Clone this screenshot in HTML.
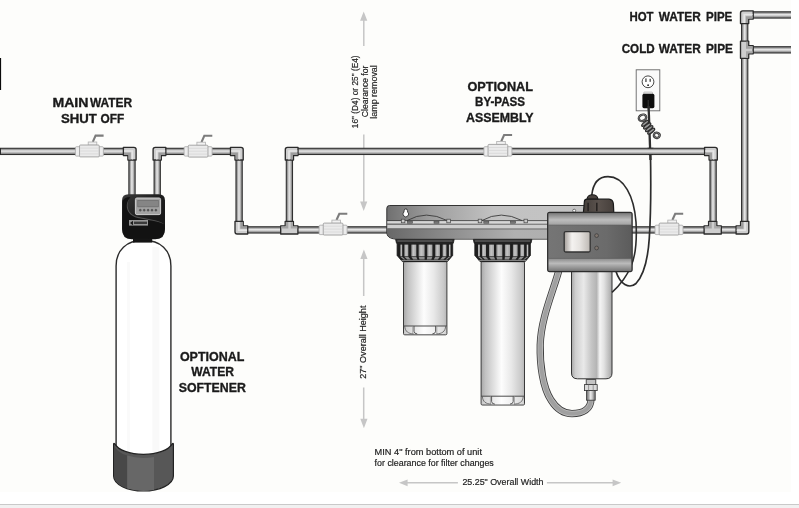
<!DOCTYPE html>
<html lang="en"><head><meta charset="utf-8"><title>Installation diagram</title>
<style>
html,body{margin:0;padding:0;background:#fff}
#wrap{position:relative;width:799px;height:508px;overflow:hidden;background:#fff}
#wrap svg{position:absolute;left:0;top:0;display:block}
#bar{position:absolute;left:0;top:504px;width:799px;height:4px;background:#f1f1f1;border-top:1px solid #c9c9c9;box-sizing:border-box}
</style></head><body>
<div id="wrap">
<svg width="791" height="492" viewBox="0 0 791 492">
<defs>
<linearGradient id="hp" x1="0" y1="0" x2="0" y2="1"><stop offset="0" stop-color="#6c6c6c"/><stop offset="0.22" stop-color="#a0a0a0"/><stop offset="0.42" stop-color="#e6e6e6"/><stop offset="0.6" stop-color="#cfcfcf"/><stop offset="0.8" stop-color="#979797"/><stop offset="1" stop-color="#747474"/></linearGradient>
<linearGradient id="vp" x1="0" y1="0" x2="1" y2="0"><stop offset="0" stop-color="#6c6c6c"/><stop offset="0.22" stop-color="#a0a0a0"/><stop offset="0.45" stop-color="#e6e6e6"/><stop offset="0.63" stop-color="#cfcfcf"/><stop offset="0.82" stop-color="#979797"/><stop offset="1" stop-color="#747474"/></linearGradient>
<linearGradient id="rib" x1="0" y1="0" x2="1" y2="0"><stop offset="0" stop-color="#8c8c8c"/><stop offset="0.4" stop-color="#c6c6c6"/><stop offset="1" stop-color="#a2a2a2"/></linearGradient>
<linearGradient id="sump" x1="0" y1="0" x2="1" y2="0"><stop offset="0" stop-color="#a8a8a8"/><stop offset="0.1" stop-color="#c2c2c2"/><stop offset="0.47" stop-color="#fdfdfd"/><stop offset="0.7" stop-color="#e8e8e8"/><stop offset="0.92" stop-color="#cacaca"/><stop offset="1" stop-color="#b6b6b6"/></linearGradient>
<linearGradient id="uv" x1="0" y1="0" x2="1" y2="0"><stop offset="0" stop-color="#a8a8a8"/><stop offset="0.1" stop-color="#cfcfcf"/><stop offset="0.3" stop-color="#e9e9e9"/><stop offset="0.5" stop-color="#c4c4c4"/><stop offset="0.62" stop-color="#b4b4b4"/><stop offset="0.7" stop-color="#f4f4f4"/><stop offset="0.8" stop-color="#e2e2e2"/><stop offset="1" stop-color="#a6a6a6"/></linearGradient>
<linearGradient id="brk" x1="0" y1="0" x2="1" y2="0"><stop offset="0" stop-color="#707070"/><stop offset="0.2" stop-color="#9c9c9c"/><stop offset="0.5" stop-color="#c2c2c2"/><stop offset="1" stop-color="#c4c4c4"/></linearGradient>
<linearGradient id="brk2" x1="0" y1="0" x2="1" y2="0"><stop offset="0" stop-color="#686868"/><stop offset="0.3" stop-color="#8e8e8e"/><stop offset="0.6" stop-color="#b0b0b0"/><stop offset="1" stop-color="#aeaeae"/></linearGradient>
<linearGradient id="ctop" x1="0" y1="0" x2="0" y2="1"><stop offset="0" stop-color="#7c7c7c"/><stop offset="0.55" stop-color="#bdbdbd"/><stop offset="1" stop-color="#a0a0a0"/></linearGradient>
<linearGradient id="cbot" x1="0" y1="0" x2="0" y2="1"><stop offset="0" stop-color="#8a8a8a"/><stop offset="0.4" stop-color="#bbbbbb"/><stop offset="1" stop-color="#7a7a7a"/></linearGradient>
<linearGradient id="cmid" x1="0" y1="0" x2="1" y2="0"><stop offset="0" stop-color="#757575"/><stop offset="0.7" stop-color="#6b6b6b"/><stop offset="1" stop-color="#5c5c5c"/></linearGradient>
<linearGradient id="scr" x1="0" y1="0" x2="1" y2="0"><stop offset="0" stop-color="#a39d98"/><stop offset="0.3" stop-color="#f4f2f0"/><stop offset="0.6" stop-color="#e6e3e0"/><stop offset="1" stop-color="#bdb8b3"/></linearGradient>
<linearGradient id="lcap" x1="0" y1="0" x2="1" y2="0"><stop offset="0" stop-color="#453f3b"/><stop offset="0.5" stop-color="#5a524d"/><stop offset="1" stop-color="#463f3b"/></linearGradient>
<linearGradient id="head" x1="0" y1="0" x2="1" y2="1"><stop offset="0" stop-color="#3a3a3a"/><stop offset="0.45" stop-color="#1e1e1e"/><stop offset="1" stop-color="#141414"/></linearGradient>
</defs>
<rect x="0" y="0" width="791" height="492" fill="#fdfdfb"/>
<rect x="0" y="58" width="1.1" height="32" fill="#0a0a0a"/>
<g id="dims" stroke="#c6c6c6" fill="#c6c6c6">
<path d="M363.8,19 V46 M363.8,134.5 V204" fill="none" stroke-width="1.5"/>
<path d="M363.7,11.4 l3.6,9.4 h-7.2 z M363.7,211 l3.6,-9.4 h-7.2 z" stroke="none"/>
<path d="M363.7,257 V296 M363.7,387.4 V420" fill="none" stroke-width="1.5"/>
<path d="M363.9,249.6 l3.6,9.4 h-7.2 z M363.9,428.2 l3.6,-9.4 h-7.2 z" stroke="none"/>
<path d="M406,482.8 H457.9 M546.9,482.8 H614" fill="none" stroke-width="1.5"/>
<path d="M399,482.8 l8.6,-3.4 v6.8 z M621.2,482.8 l-8.6,-3.4 v6.8 z" stroke="none"/>
</g>
<rect x="0.5" y="148.25" width="131.5" height="6.30" fill="url(#hp)" stroke="#2b2b2b" stroke-width="1"/>
<rect x="128.85" y="151.4" width="6.30" height="44.6" fill="url(#vp)" stroke="#2b2b2b" stroke-width="1"/>
<rect x="154.05" y="151.4" width="6.30" height="44.6" fill="url(#vp)" stroke="#2b2b2b" stroke-width="1"/>
<rect x="157.2" y="148.25" width="81.9" height="6.30" fill="url(#hp)" stroke="#2b2b2b" stroke-width="1"/>
<rect x="235.95" y="151.4" width="6.30" height="78.5" fill="url(#vp)" stroke="#2b2b2b" stroke-width="1"/>
<rect x="239.1" y="226.75" width="148.9" height="6.30" fill="url(#hp)" stroke="#2b2b2b" stroke-width="1"/>
<rect x="286.25" y="151.4" width="6.30" height="78.5" fill="url(#vp)" stroke="#2b2b2b" stroke-width="1"/>
<rect x="289.4" y="148.25" width="423.8" height="6.30" fill="url(#hp)" stroke="#2b2b2b" stroke-width="1"/>
<rect x="709.95" y="151.4" width="6.30" height="78.5" fill="url(#vp)" stroke="#2b2b2b" stroke-width="1"/>
<rect x="631.0" y="226.75" width="113.7" height="6.30" fill="url(#hp)" stroke="#2b2b2b" stroke-width="1"/>
<rect x="741.55" y="14.9" width="6.30" height="215.0" fill="url(#vp)" stroke="#2b2b2b" stroke-width="1"/>
<rect x="744.7" y="11.80" width="46.8" height="6.30" fill="url(#hp)" stroke="#2b2b2b" stroke-width="1"/>
<rect x="744.7" y="46.70" width="46.8" height="6.30" fill="url(#hp)" stroke="#2b2b2b" stroke-width="1"/>
<path d="M123.40,147.30 L133.90,147.30 Q136.10,147.30 136.10,149.50 L136.10,160.00 L127.90,160.00 L127.90,155.50 L123.40,155.50 Z" fill="#cecece" stroke="#2b2b2b" stroke-width="1.35" stroke-linejoin="round"/>
<path d="M124.00,152.60 L130.80,152.60 L130.80,159.40 L128.50,159.40 L128.50,154.90 L124.00,154.90 Z" fill="#9c9c9c"/>
<path d="M124.00,151.00 L132.40,151.00 L132.40,159.40" fill="none" stroke="#e6e6e6" stroke-width="1.6"/>
<path d="M165.80,147.30 L155.30,147.30 Q153.10,147.30 153.10,149.50 L153.10,160.00 L161.30,160.00 L161.30,155.50 L165.80,155.50 Z" fill="#cecece" stroke="#2b2b2b" stroke-width="1.35" stroke-linejoin="round"/>
<path d="M165.20,152.60 L158.40,152.60 L158.40,159.40 L160.70,159.40 L160.70,154.90 L165.20,154.90 Z" fill="#9c9c9c"/>
<path d="M165.20,151.00 L156.80,151.00 L156.80,159.40" fill="none" stroke="#e6e6e6" stroke-width="1.6"/>
<path d="M230.50,147.30 L241.00,147.30 Q243.20,147.30 243.20,149.50 L243.20,160.00 L235.00,160.00 L235.00,155.50 L230.50,155.50 Z" fill="#cecece" stroke="#2b2b2b" stroke-width="1.35" stroke-linejoin="round"/>
<path d="M231.10,152.60 L237.90,152.60 L237.90,159.40 L235.60,159.40 L235.60,154.90 L231.10,154.90 Z" fill="#9c9c9c"/>
<path d="M231.10,151.00 L239.50,151.00 L239.50,159.40" fill="none" stroke="#e6e6e6" stroke-width="1.6"/>
<path d="M247.70,234.00 L237.20,234.00 Q235.00,234.00 235.00,231.80 L235.00,221.30 L243.20,221.30 L243.20,225.80 L247.70,225.80 Z" fill="#cecece" stroke="#2b2b2b" stroke-width="1.35" stroke-linejoin="round"/>
<path d="M247.10,228.70 L240.30,228.70 L240.30,221.90 L242.60,221.90 L242.60,226.40 L247.10,226.40 Z" fill="#9c9c9c"/>
<path d="M247.10,230.30 L238.70,230.30 L238.70,221.90" fill="none" stroke="#e6e6e6" stroke-width="1.6"/>
<path d="M280.70,234.00 L297.90,234.00 L297.90,225.80 L293.40,225.80 L293.40,221.30 L285.20,221.30 L285.20,225.80 L280.70,225.80 Z" fill="#cecece" stroke="#2b2b2b" stroke-width="1.35" stroke-linejoin="round"/>
<path d="M281.30,226.40 L285.80,226.40 L285.80,221.90 L288.30,221.90 L288.30,228.50 L281.30,228.50 Z" fill="#a2a2a2"/>
<path d="M297.30,226.40 L292.80,226.40 L292.80,221.90 L290.70,221.90 L290.70,228.50 L297.30,228.50 Z" fill="#a8a8a8"/>
<path d="M298.00,147.30 L287.50,147.30 Q285.30,147.30 285.30,149.50 L285.30,160.00 L293.50,160.00 L293.50,155.50 L298.00,155.50 Z" fill="#cecece" stroke="#2b2b2b" stroke-width="1.35" stroke-linejoin="round"/>
<path d="M297.40,152.60 L290.60,152.60 L290.60,159.40 L292.90,159.40 L292.90,154.90 L297.40,154.90 Z" fill="#9c9c9c"/>
<path d="M297.40,151.00 L289.00,151.00 L289.00,159.40" fill="none" stroke="#e6e6e6" stroke-width="1.6"/>
<path d="M704.60,147.30 L715.10,147.30 Q717.30,147.30 717.30,149.50 L717.30,160.00 L709.10,160.00 L709.10,155.50 L704.60,155.50 Z" fill="#cecece" stroke="#2b2b2b" stroke-width="1.35" stroke-linejoin="round"/>
<path d="M705.20,152.60 L712.00,152.60 L712.00,159.40 L709.70,159.40 L709.70,154.90 L705.20,154.90 Z" fill="#9c9c9c"/>
<path d="M705.20,151.00 L713.60,151.00 L713.60,159.40" fill="none" stroke="#e6e6e6" stroke-width="1.6"/>
<path d="M704.10,234.00 L721.30,234.00 L721.30,225.80 L716.80,225.80 L716.80,221.30 L708.60,221.30 L708.60,225.80 L704.10,225.80 Z" fill="#cecece" stroke="#2b2b2b" stroke-width="1.35" stroke-linejoin="round"/>
<path d="M704.70,226.40 L709.20,226.40 L709.20,221.90 L711.70,221.90 L711.70,228.50 L704.70,228.50 Z" fill="#a2a2a2"/>
<path d="M720.70,226.40 L716.20,226.40 L716.20,221.90 L714.10,221.90 L714.10,228.50 L720.70,228.50 Z" fill="#a8a8a8"/>
<path d="M736.10,234.00 L746.60,234.00 Q748.80,234.00 748.80,231.80 L748.80,221.30 L740.60,221.30 L740.60,225.80 L736.10,225.80 Z" fill="#cecece" stroke="#2b2b2b" stroke-width="1.35" stroke-linejoin="round"/>
<path d="M736.70,228.70 L743.50,228.70 L743.50,221.90 L741.20,221.90 L741.20,226.40 L736.70,226.40 Z" fill="#9c9c9c"/>
<path d="M736.70,230.30 L745.10,230.30 L745.10,221.90" fill="none" stroke="#e6e6e6" stroke-width="1.6"/>
<path d="M753.20,10.85 L742.70,10.85 Q740.50,10.85 740.50,13.05 L740.50,23.55 L748.70,23.55 L748.70,19.05 L753.20,19.05 Z" fill="#cecece" stroke="#2b2b2b" stroke-width="1.35" stroke-linejoin="round"/>
<path d="M752.60,16.15 L745.80,16.15 L745.80,22.95 L748.10,22.95 L748.10,18.45 L752.60,18.45 Z" fill="#9c9c9c"/>
<path d="M752.60,14.55 L744.20,14.55 L744.20,22.95" fill="none" stroke="#e6e6e6" stroke-width="1.6"/>
<path d="M740.50,41.15 L740.50,58.35 L748.70,58.35 L748.70,53.85 L753.20,53.85 L753.20,45.65 L748.70,45.65 L748.70,41.15 Z" fill="#cecece" stroke="#2b2b2b" stroke-width="1.35" stroke-linejoin="round"/>
<path d="M748.10,41.75 L748.10,46.25 L752.60,46.25 L752.60,48.75 L746.00,48.75 L746.00,41.75 Z" fill="#a2a2a2"/>
<path d="M748.10,57.75 L748.10,53.25 L752.60,53.25 L752.60,51.15 L746.00,51.15 L746.00,57.75 Z" fill="#a8a8a8"/>
<g><path d="M92.80,141.90 L95.60,135.60 L103.60,135.60" fill="none" stroke="#7c7c7c" stroke-width="2.1"/><rect x="75.40" y="146.70" width="28" height="9.4" rx="1" fill="#ececec" stroke="#a8a8a8" stroke-width="0.8"/><rect x="88.20" y="142.00" width="8.6" height="3.2" fill="#f2f2f2" stroke="#b0b0b0" stroke-width="0.8"/><rect x="79.55" y="145.00" width="19.7" height="11.9" rx="1" fill="#ebebeb" stroke="#9e9e9e" stroke-width="0.9"/><line x1="80.20" x2="98.60" y1="148.10" y2="148.10" stroke="#d4d4d4" stroke-width="0.7"/><line x1="80.20" x2="98.60" y1="151.00" y2="151.00" stroke="#d4d4d4" stroke-width="0.7"/><line x1="80.20" x2="98.60" y1="153.90" y2="153.90" stroke="#d4d4d4" stroke-width="0.7"/></g>
<g><path d="M201.50,142.10 L204.30,135.80 L212.30,135.80" fill="none" stroke="#7c7c7c" stroke-width="2.1"/><rect x="184.10" y="146.70" width="28" height="9.4" rx="1" fill="#ececec" stroke="#a8a8a8" stroke-width="0.8"/><rect x="196.90" y="142.20" width="8.6" height="3.2" fill="#f2f2f2" stroke="#b0b0b0" stroke-width="0.8"/><rect x="188.25" y="145.20" width="19.7" height="11.9" rx="1" fill="#ebebeb" stroke="#9e9e9e" stroke-width="0.9"/><line x1="188.90" x2="207.30" y1="148.30" y2="148.30" stroke="#d4d4d4" stroke-width="0.7"/><line x1="188.90" x2="207.30" y1="151.20" y2="151.20" stroke="#d4d4d4" stroke-width="0.7"/><line x1="188.90" x2="207.30" y1="154.10" y2="154.10" stroke="#d4d4d4" stroke-width="0.7"/></g>
<g><path d="M501.30,141.30 L504.10,135.00 L512.10,135.00" fill="none" stroke="#7c7c7c" stroke-width="2.1"/><rect x="483.90" y="146.70" width="28" height="9.4" rx="1" fill="#ececec" stroke="#a8a8a8" stroke-width="0.8"/><rect x="496.70" y="141.40" width="8.6" height="3.2" fill="#f2f2f2" stroke="#b0b0b0" stroke-width="0.8"/><rect x="488.05" y="144.40" width="19.7" height="11.9" rx="1" fill="#ebebeb" stroke="#9e9e9e" stroke-width="0.9"/><line x1="488.70" x2="507.10" y1="147.50" y2="147.50" stroke="#d4d4d4" stroke-width="0.7"/><line x1="488.70" x2="507.10" y1="150.40" y2="150.40" stroke="#d4d4d4" stroke-width="0.7"/><line x1="488.70" x2="507.10" y1="153.30" y2="153.30" stroke="#d4d4d4" stroke-width="0.7"/></g>
<g><path d="M336.50,220.00 L339.30,213.70 L347.30,213.70" fill="none" stroke="#7c7c7c" stroke-width="2.1"/><rect x="319.10" y="225.20" width="28" height="9.4" rx="1" fill="#ececec" stroke="#a8a8a8" stroke-width="0.8"/><rect x="331.90" y="220.10" width="8.6" height="3.2" fill="#f2f2f2" stroke="#b0b0b0" stroke-width="0.8"/><rect x="323.25" y="223.10" width="19.7" height="11.9" rx="1" fill="#ebebeb" stroke="#9e9e9e" stroke-width="0.9"/><line x1="323.90" x2="342.30" y1="226.20" y2="226.20" stroke="#d4d4d4" stroke-width="0.7"/><line x1="323.90" x2="342.30" y1="229.10" y2="229.10" stroke="#d4d4d4" stroke-width="0.7"/><line x1="323.90" x2="342.30" y1="232.00" y2="232.00" stroke="#d4d4d4" stroke-width="0.7"/></g>
<g><path d="M672.40,220.00 L675.20,213.70 L683.20,213.70" fill="none" stroke="#7c7c7c" stroke-width="2.1"/><rect x="655.00" y="225.20" width="28" height="9.4" rx="1" fill="#ececec" stroke="#a8a8a8" stroke-width="0.8"/><rect x="667.80" y="220.10" width="8.6" height="3.2" fill="#f2f2f2" stroke="#b0b0b0" stroke-width="0.8"/><rect x="659.15" y="223.10" width="19.7" height="11.9" rx="1" fill="#ebebeb" stroke="#9e9e9e" stroke-width="0.9"/><line x1="659.80" x2="678.20" y1="226.20" y2="226.20" stroke="#d4d4d4" stroke-width="0.7"/><line x1="659.80" x2="678.20" y1="229.10" y2="229.10" stroke="#d4d4d4" stroke-width="0.7"/><line x1="659.80" x2="678.20" y1="232.00" y2="232.00" stroke="#d4d4d4" stroke-width="0.7"/></g>
<g id="softener">
<path d="M116.1,478 V266 C116.1,250 126.5,240.3 143.5,240.3 C160.5,240.3 170.9,250 170.9,266 V478 Z" fill="#ffffff" stroke="#2b2b2b" stroke-width="1.4"/>
<rect x="127" y="262" width="3" height="196" fill="#fafafa"/>
<rect x="152.4" y="247" width="7" height="211" fill="#f9f9f9"/>

<path d="M113.6,444.5 Q113.6,442.6 114.6,443.6 A29.9,14.6 0 0 0 172.4,443.6 Q173.4,442.6 173.4,444.5 V476 A29.9,15 0 0 1 113.6,476 Z" fill="#575757" stroke="#222" stroke-width="1.2"/>
<path d="M114.2,445 A29.9,14.6 0 0 0 127.2,455.6 V488.6 A29.9,15 0 0 1 114.2,476.5 Z" fill="#484848"/>
<path d="M127.2,455.6 A29.9,14.6 0 0 0 154,457 V490 A29.9,15 0 0 1 127.2,488.6 Z" fill="#676767"/>
<rect x="133" y="238" width="19.2" height="4.6" fill="#141414"/>
<path d="M128.5,194.2 H158.5 Q165,194.2 165,200.5 V229 Q165,239.2 155.5,239.2 H131.5 Q122,239.2 122,229 V200.5 Q122,194.2 128.5,194.2 Z" fill="url(#head)"/>
<path d="M130.5,197.6 C126,203 126.6,213.8 137,216.6 C149,219.4 158,219.6 164.6,224.5 V229 Q164.6,238.8 155.5,238.8 H131.5 Q122.4,238.8 122.4,229 V203 C122.4,199.6 126,196.4 130.5,197.6 Z" fill="#121212"/>
<path d="M130.5,197.6 C126,203 126.6,213.8 137,216.6 C149,219.4 158,219.6 164.6,224.5 C158,220.6 149,220.6 137.6,218 C125,215 124.6,202.6 130.5,197.6 Z" fill="#505050"/>
<rect x="135.4" y="198" width="25.2" height="16.6" rx="1.5" fill="#a2a2a2" stroke="#cfcfcf" stroke-width="1"/>
<rect x="137.8" y="200.4" width="20.5" height="6.5" fill="#858585" stroke="#5a5a5a" stroke-width="0.5"/>
<g fill="#585858" stroke="#444" stroke-width="0.3"><circle cx="140.3" cy="210.2" r="1.1"/><circle cx="144.2" cy="210.2" r="1.1"/><circle cx="148.1" cy="210.2" r="1.1"/><circle cx="152" cy="210.2" r="1.1"/><circle cx="155.9" cy="210.2" r="1.1"/></g>
<rect x="129" y="220" width="19" height="5.6" fill="#969696"/>
<rect x="134" y="221.6" width="13" height="2.4" fill="#3a3a3a"/>
<path d="M130,223 l3,-2.2 v4.4 z" fill="#1a1a1a"/>
</g>
<g id="unit">
<path d="M559,270 C553,292 541,318 540.2,345 C539.7,365 543,388 551,400 C556,408 563,413.6 572,413.6 C583,413.6 591,409 591,399" fill="none" stroke="#3c3c3c" stroke-width="7.2"/>
<path d="M559,270 C553,292 541,318 540.2,345 C539.7,365 543,388 551,400 C556,408 563,413.6 572,413.6 C583,413.6 591,409 591,399" fill="none" stroke="#bababa" stroke-width="5.6"/>
<path d="M559,270 C553,292 541,318 540.2,345 C539.7,365 543,388 551,400 C556,408 563,413.6 572,413.6 C583,413.6 591,409 591,399" fill="none" stroke="#a0a0a0" stroke-width="3.8"/>
<path d="M389.6,205.5 H600 V239.1 H396 C389.4,238.6 386.8,236.4 386.8,232 V208.3 Q386.8,205.5 389.6,205.5 Z" fill="url(#brk)" stroke="#333" stroke-width="1"/>
<rect x="387.3" y="221" width="212.7" height="2.6" fill="#d6d6d6"/>
<rect x="387.3" y="224.8" width="212.7" height="3.8" fill="#cecece"/>
<path d="M387.3,228.6 H600 V238.6 H396 C389.9,238.2 387.3,236.2 387.3,232 Z" fill="url(#brk2)"/>
<path d="M387.3,229 H600" stroke="#6c6c6c" stroke-width="0.9"/>
<path d="M387,220.6 H600" stroke="#3c3c3c" stroke-width="0.8"/>
<path d="M387,224.2 H600" stroke="#707070" stroke-width="1.1"/>
<path d="M407.0,220.6 Q426.0,209.6 447.3,220.6" fill="none" stroke="#3a3a3a" stroke-width="0.9"/>
<path d="M481.8,220.6 Q500.8,209.6 522.1,220.6" fill="none" stroke="#3a3a3a" stroke-width="0.9"/>
<rect x="401.3" y="219.2" width="3.6" height="3.6" fill="#c9c9c9" stroke="#444" stroke-width="0.7"/>
<rect x="446.8" y="219.2" width="3.6" height="3.6" fill="#c9c9c9" stroke="#444" stroke-width="0.7"/>
<rect x="478.2" y="219.2" width="3.6" height="3.6" fill="#c9c9c9" stroke="#444" stroke-width="0.7"/>
<rect x="524.0" y="219.2" width="3.6" height="3.6" fill="#c9c9c9" stroke="#444" stroke-width="0.7"/>
<rect x="407.5" y="221.4" width="5" height="1.8" fill="#7a7a7a" stroke="#4a4a4a" stroke-width="0.6"/>
<rect x="434.0" y="221.4" width="5" height="1.8" fill="#7a7a7a" stroke="#4a4a4a" stroke-width="0.6"/>
<rect x="483.8" y="221.4" width="5" height="1.8" fill="#7a7a7a" stroke="#4a4a4a" stroke-width="0.6"/>
<rect x="510.6" y="221.4" width="5" height="1.8" fill="#7a7a7a" stroke="#4a4a4a" stroke-width="0.6"/>
<path d="M404.2,210.5 a1.6,1.6 0 1 1 3.2,0 L407.7,212 a2.8,2.8 0 1 1 -3.8,0 Z" fill="#fff" stroke="#2e2e2e" stroke-width="0.9"/>
<circle cx="574.2" cy="210.7" r="1.5" fill="#fff" stroke="#444" stroke-width="0.7"/>
<rect x="403.5" y="261.6" width="43.4" height="73.2" rx="1.2" fill="url(#sump)" stroke="#3a3a3a" stroke-width="1"/><rect x="404.0" y="326.0" width="42.4" height="8.3" fill="#ffffff" opacity="0.35"/><path d="M403.5,326.0 H446.9" stroke="#4a4a4a" stroke-width="1"/><path d="M404.7,326.0 C405.1,331.8 408.5,333.7 413.6,333.9" stroke="#5a5a5a" stroke-width="0.8" fill="none"/><path d="M445.7,326.0 C445.3,331.8 441.9,333.7 436.4,333.9" stroke="#5a5a5a" stroke-width="0.8" fill="none"/><path d="M414.0,326.0 V331.3 Q414.2,333.8 417.2,333.9 M435.6,326.0 V331.3 Q435.4,333.8 432.4,333.9" stroke="#4a4a4a" stroke-width="0.9" fill="none"/><path d="M412.8,326.0 V333.8 M436.8,326.0 V333.8" stroke="#8a8a8a" stroke-width="0.7" fill="none"/>
<path d="M395.6,239.4 H454.2 L453.3,243.2 H396.5 Z" fill="#2c2c2c" stroke="#1c1c1c" stroke-width="0.8" stroke-linejoin="round"/><path d="M397.4,241 H452.4" stroke="#727272" stroke-width="0.9"/><path d="M397.1,243.2 H452.7 V255.4 L447.5,261.6 H402.3 L397.1,255.4 Z" fill="#1e1e1e" stroke="#1a1a1a" stroke-width="0.8" stroke-linejoin="round"/><rect x="400.3" y="244.6" width="1.9" height="11.6" fill="url(#rib)"/><path d="M400.3,256.8 H402.2 L405.4,259.6 H403.7 Z" fill="#8e8e8e"/><rect x="404.3" y="244.6" width="4.0" height="11.6" fill="url(#rib)"/><path d="M404.3,256.8 H408.3 L410.6,259.6 H407.2 Z" fill="#8e8e8e"/><rect x="411.3" y="244.6" width="5.0" height="11.6" fill="url(#rib)"/><path d="M411.3,256.8 H416.3 L417.5,259.6 H413.2 Z" fill="#8e8e8e"/><rect x="418.6" y="244.6" width="6.0" height="11.6" fill="url(#rib)"/><path d="M418.6,256.8 H424.6 L424.6,259.6 H419.5 Z" fill="#8e8e8e"/><rect x="427.2" y="244.6" width="5.2" height="11.6" fill="url(#rib)"/><path d="M427.2,256.8 H432.4 L431.3,259.6 H426.9 Z" fill="#8e8e8e"/><rect x="435.2" y="244.6" width="4.7" height="11.6" fill="url(#rib)"/><path d="M435.2,256.8 H439.9 L437.8,259.6 H433.8 Z" fill="#8e8e8e"/><rect x="442.6" y="244.6" width="3.8" height="11.6" fill="url(#rib)"/><path d="M442.6,256.8 H446.4 L443.4,259.6 H440.1 Z" fill="#8e8e8e"/><rect x="448.9" y="244.6" width="1.7" height="11.6" fill="url(#rib)"/><path d="M448.9,256.8 H450.6 L447.0,259.6 H445.5 Z" fill="#8e8e8e"/><path d="M401.5,260.4 H448.3" stroke="#9a9a9a" stroke-width="0.9"/>
<rect x="481.1" y="261.6" width="43.4" height="143.4" rx="1.2" fill="url(#sump)" stroke="#3a3a3a" stroke-width="1"/><rect x="481.6" y="396.2" width="42.4" height="8.3" fill="#ffffff" opacity="0.35"/><path d="M481.1,396.2 H524.5" stroke="#4a4a4a" stroke-width="1"/><path d="M482.3,396.2 C482.7,402.0 486.1,403.9 491.2,404.1" stroke="#5a5a5a" stroke-width="0.8" fill="none"/><path d="M523.3,396.2 C522.9,402.0 519.5,403.9 514.0,404.1" stroke="#5a5a5a" stroke-width="0.8" fill="none"/><path d="M491.6,396.2 V401.5 Q491.8,404.0 494.8,404.1 M513.2,396.2 V401.5 Q513.0,404.0 510.0,404.1" stroke="#4a4a4a" stroke-width="0.9" fill="none"/><path d="M490.4,396.2 V404.0 M514.4,396.2 V404.0" stroke="#8a8a8a" stroke-width="0.7" fill="none"/>
<path d="M473.3,239.4 H531.9 L531.0,243.2 H474.2 Z" fill="#2c2c2c" stroke="#1c1c1c" stroke-width="0.8" stroke-linejoin="round"/><path d="M475.1,241 H530.1" stroke="#727272" stroke-width="0.9"/><path d="M474.8,243.2 H530.4 V255.4 L525.2,261.6 H480.0 L474.8,255.4 Z" fill="#1e1e1e" stroke="#1a1a1a" stroke-width="0.8" stroke-linejoin="round"/><rect x="478.0" y="244.6" width="1.9" height="11.6" fill="url(#rib)"/><path d="M478.0,256.8 H479.9 L483.1,259.6 H481.4 Z" fill="#8e8e8e"/><rect x="482.0" y="244.6" width="4.0" height="11.6" fill="url(#rib)"/><path d="M482.0,256.8 H486.0 L488.3,259.6 H484.9 Z" fill="#8e8e8e"/><rect x="489.0" y="244.6" width="5.0" height="11.6" fill="url(#rib)"/><path d="M489.0,256.8 H494.0 L495.2,259.6 H490.9 Z" fill="#8e8e8e"/><rect x="496.3" y="244.6" width="6.0" height="11.6" fill="url(#rib)"/><path d="M496.3,256.8 H502.3 L502.3,259.6 H497.2 Z" fill="#8e8e8e"/><rect x="504.9" y="244.6" width="5.2" height="11.6" fill="url(#rib)"/><path d="M504.9,256.8 H510.1 L509.1,259.6 H504.6 Z" fill="#8e8e8e"/><rect x="512.9" y="244.6" width="4.7" height="11.6" fill="url(#rib)"/><path d="M512.9,256.8 H517.6 L515.5,259.6 H511.5 Z" fill="#8e8e8e"/><rect x="520.3" y="244.6" width="3.8" height="11.6" fill="url(#rib)"/><path d="M520.3,256.8 H524.1 L521.1,259.6 H517.8 Z" fill="#8e8e8e"/><rect x="526.6" y="244.6" width="1.7" height="11.6" fill="url(#rib)"/><path d="M526.6,256.8 H528.3 L524.7,259.6 H523.2 Z" fill="#8e8e8e"/><path d="M479.2,260.4 H526.0" stroke="#9a9a9a" stroke-width="0.9"/>
<path d="M571.5,270 H612 V373 Q612,378.8 606,378.8 H577.5 Q571.5,378.8 571.5,373 Z" fill="url(#uv)" stroke="#333" stroke-width="1"/>
<rect x="586.2" y="379.6" width="9.6" height="5.2" fill="#c4c4c4" stroke="#333" stroke-width="0.8"/>
<rect x="584.6" y="384.6" width="12.6" height="6" fill="#dadada" stroke="#333" stroke-width="0.8"/>
<rect x="586.6" y="390.6" width="8.6" height="9.6" fill="url(#vp)" stroke="#333" stroke-width="0.8"/>
<path d="M588.6,384.6 V390.6 M593.2,384.6 V390.6" stroke="#777" stroke-width="0.7"/>
<path d="M591.8,195 C593,184 598,176.6 608,176.6 C624,176.6 634,196 636,222 C637,240 636,255 631,266 C627,276 619,286 612,292.4" fill="none" stroke="#2c2c2c" stroke-width="1.6"/>
<path d="M650.4,150 C650.8,170 650.8,215 649.3,238 C648,258 644,275 636,283.5 C629,289.5 620,284 616,271.5" fill="none" stroke="#2c2c2c" stroke-width="1.7"/>
<path d="M586.9,199.4 C587.4,196.4 589.6,194.8 592.4,194.8 C595.4,194.8 597.6,196.4 598,199.4 Z" fill="#4b4440" stroke="#1a1a1a" stroke-width="1.1"/>
<path d="M583.4,212.6 L584.4,201.4 Q584.6,199.2 587,199.2 H609 Q613,199.6 613.4,204 L613.8,212.6 Z" fill="url(#lcap)" stroke="#1a1a1a" stroke-width="1.2" stroke-linejoin="round"/>
<path d="M588.1,202.8 V211.2 M596.8,202.8 V211.2" stroke="#252220" stroke-width="1.5"/>
<rect x="547.7" y="212.4" width="84.4" height="59.2" rx="2" fill="#6c6c6c" stroke="#2d2d2d" stroke-width="1.3"/>
<rect x="548.6" y="213.3" width="82.6" height="11.8" fill="url(#ctop)"/>
<rect x="548.6" y="258.4" width="82.6" height="12.4" fill="url(#cbot)"/>
<rect x="548.6" y="225.1" width="82.6" height="33.3" fill="url(#cmid)"/>
<path d="M548.4,225 H631.4 M548.4,258.4 H631.4" stroke="#5a5a5a" stroke-width="0.5"/>
<rect x="564.2" y="231.6" width="26" height="20.4" rx="1.5" fill="url(#scr)" stroke="#333" stroke-width="1.3"/>
<circle cx="596.6" cy="235.6" r="1.9" fill="#7e746d" stroke="#3a3a3a" stroke-width="0.7"/>
<circle cx="596.6" cy="248" r="1.9" fill="#7e746d" stroke="#3a3a3a" stroke-width="0.7"/>
</g>
<g id="outlet">
<rect x="636.2" y="69.8" width="23.6" height="41" fill="#fafafa" stroke="#666" stroke-width="0.9"/>
<circle cx="648" cy="81.8" r="5.9" fill="#fff" stroke="#333" stroke-width="0.9"/>
<rect x="645.4" y="78.4" width="1.1" height="3.6" fill="#222"/><rect x="649.6" y="78.8" width="1.1" height="3" fill="#222"/>
<circle cx="648.1" cy="85.2" r="0.9" fill="#222"/>
<rect x="643.6" y="92" width="9" height="3" rx="1" fill="#e8e8e8" stroke="#999" stroke-width="0.5"/>
<rect x="642.4" y="93.8" width="12" height="14.4" rx="1.6" fill="#0e0e0e"/>
<path d="M648.2,100 V110" stroke="#444" stroke-width="0.8"/>
<path d="M648.6,106 L650.5,160" fill="none" stroke="#2e2e2e" stroke-width="2.3"/>
<g fill="none" stroke="#333" stroke-width="2.3">
<ellipse cx="642.5" cy="117.8" rx="3.8" ry="3.1" transform="rotate(-25 642.5 117.8)"/>
<ellipse cx="656.8" cy="135.3" rx="2.9" ry="2.6" transform="rotate(15 656.8 135.3)"/>
</g>
<g fill="none" stroke="#8c8c8c" stroke-width="0.7">
<ellipse cx="642.5" cy="117.8" rx="3.8" ry="3.1" transform="rotate(-25 642.5 117.8)"/>
<ellipse cx="656.8" cy="135.3" rx="2.9" ry="2.6" transform="rotate(15 656.8 135.3)"/>
</g>
<g fill="#9a9a9a" stroke="#2e2e2e" stroke-width="1.3">
<ellipse cx="645.2" cy="123.4" rx="4.2" ry="1.5" transform="rotate(-38 645.2 123.4)"/>
<ellipse cx="647.2" cy="126" rx="4.4" ry="1.5" transform="rotate(-38 647.2 126)"/>
<ellipse cx="649.2" cy="128.6" rx="4.4" ry="1.5" transform="rotate(-38 649.2 128.6)"/>
<ellipse cx="651.2" cy="131.2" rx="4.2" ry="1.5" transform="rotate(-38 651.2 131.2)"/>
</g>
</g>
<rect x="647.5" y="148.25" width="6" height="6.30" fill="url(#hp)"/>
<path d="M647.5,148.25 H653.5 M647.5,154.55 H653.5" stroke="#2b2b2b" stroke-width="1" fill="none"/>
<g opacity="0.999" font-family="'Liberation Sans', Arial, sans-serif" fill="#1a1a1a">
<g font-weight="bold" font-size="13" stroke="#1a1a1a" stroke-width="0.35" stroke-linejoin="round">
<text x="52.4" y="107.2" textLength="36.0" lengthAdjust="spacingAndGlyphs">MAIN</text>
<text x="90.0" y="107.2" textLength="42.2" lengthAdjust="spacingAndGlyphs">WATER</text>
<text x="60.9" y="122.6" textLength="35.8" lengthAdjust="spacingAndGlyphs">SHUT</text>
<text x="100.6" y="122.6" textLength="23.7" lengthAdjust="spacingAndGlyphs">OFF</text>
<text x="467.5" y="90.7" textLength="65.5" lengthAdjust="spacingAndGlyphs">OPTIONAL</text>
<text x="475" y="106.1" textLength="50.1" lengthAdjust="spacingAndGlyphs">BY-PASS</text>
<text x="466" y="121.7" textLength="67.6" lengthAdjust="spacingAndGlyphs">ASSEMBLY</text>
<text x="179.9" y="360.8" textLength="64.5" lengthAdjust="spacingAndGlyphs">OPTIONAL</text>
<text x="191.2" y="376.3" textLength="42.8" lengthAdjust="spacingAndGlyphs">WATER</text>
<text x="178.7" y="391.7" textLength="67.2" lengthAdjust="spacingAndGlyphs">SOFTENER</text>
<text x="629.5" y="21.0" textLength="24.1" lengthAdjust="spacingAndGlyphs">HOT</text>
<text x="658.8" y="21.0" textLength="42.0" lengthAdjust="spacingAndGlyphs">WATER</text>
<text x="706" y="21.0" textLength="26.3" lengthAdjust="spacingAndGlyphs">PIPE</text>
<text x="621.7" y="53.4" textLength="33.0" lengthAdjust="spacingAndGlyphs">COLD</text>
<text x="658.8" y="53.4" textLength="42.0" lengthAdjust="spacingAndGlyphs">WATER</text>
<text x="706" y="53.4" textLength="26.9" lengthAdjust="spacingAndGlyphs">PIPE</text>
</g>
<g fill="#222" stroke="#222" stroke-width="0.18">
<text transform="translate(358.1,128.2) rotate(-90)" font-size="8.3" textLength="72.8" lengthAdjust="spacingAndGlyphs">16&quot; (D4) or 25&quot; (E4)</text>
<text transform="translate(367.6,117.2) rotate(-90)" font-size="8.3" textLength="51.6" lengthAdjust="spacingAndGlyphs">Clearance for</text>
<text transform="translate(377.0,118.7) rotate(-90)" font-size="8.3" textLength="53.5" lengthAdjust="spacingAndGlyphs">lamp removal</text>
<text transform="translate(366.0,378.7) rotate(-90)" font-size="8.4" textLength="73.1" lengthAdjust="spacingAndGlyphs">27&quot; Overall Height</text>
<text x="374.6" y="455.4" font-size="8.3" textLength="107.4" lengthAdjust="spacingAndGlyphs">MIN 4&quot; from bottom of unit</text>
<text x="374.6" y="465.5" font-size="8.3" textLength="119.2" lengthAdjust="spacingAndGlyphs">for clearance for filter changes</text>
<text x="462.4" y="485.3" font-size="8.3" textLength="81.1" lengthAdjust="spacingAndGlyphs">25.25&quot; Overall Width</text>
</g>
</g>
</svg>
<div id="bar"></div>
</div>
</body></html>
